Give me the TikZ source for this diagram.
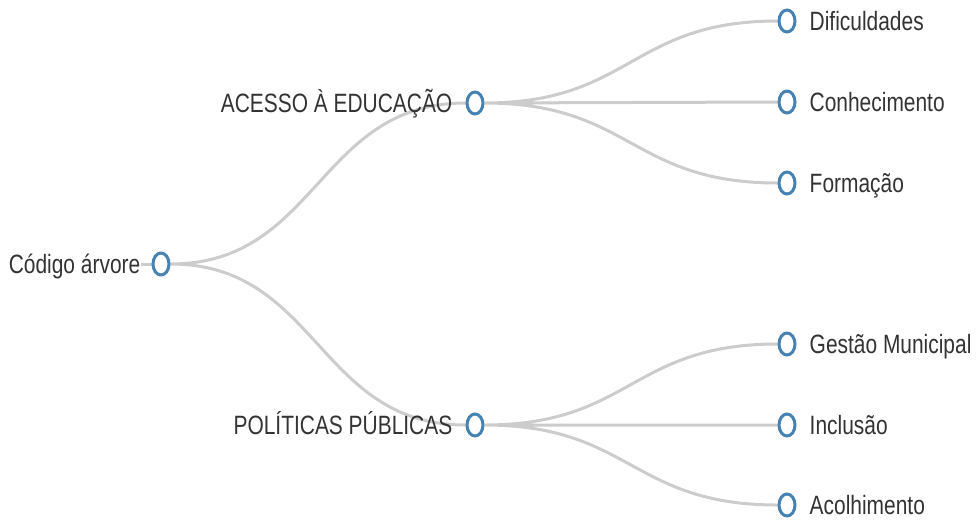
\documentclass[tikz,border=0pt]{standalone}
\usepackage{fontspec}
\setmainfont[FakeStretch=0.79]{Liberation Sans}
\usetikzlibrary{shapes.geometric, positioning, backgrounds, calc}
\definecolor{dotblue}{HTML}{4682B4}
\definecolor{linkgray}{HTML}{CCCCCC}
\definecolor{textgray}{HTML}{333333}

\begin{document}
\begin{tikzpicture}[x=1pt, y=-1pt, node distance=13pt, font=\fontsize{26.5}{30}\selectfont]
        \tikzstyle{dot}=[ellipse, draw=dotblue, line width=3pt, fill=white, minimum width=16pt, minimum height=22pt, inner sep=0pt]
        \tikzstyle{nodetext}=[text=textgray, inner sep=0pt, text height=19pt, text depth=0pt]
        \tikzstyle{link}=[draw=linkgray, line width=3pt]
        \tikzstyle{branch}=[to path={let \p1=(\tikztostart), \p2=(\tikztotarget) in .. controls ({0.5*\x1+0.5*\x2},\y1) and ({0.5*\x1+0.5*\x2},\y2) .. (\tikztotarget)}]

        \useasboundingbox (0,0) rectangle (976,520);

        % dots
        \node[dot] (root)    at (161,264) {};
        \node[dot] (acesso)  at (475,103) {};
        \node[dot] (politic) at (475,425) {};
        \node[dot] (dific)   at (787,21)  {};
        \node[dot] (conhec)  at (787,102) {};
        \node[dot] (formac)  at (787,183) {};
        \node[dot] (gestao)  at (787,344) {};
        \node[dot] (inclus)  at (787,425) {};
        \node[dot] (acolhi)  at (787,505) {};

        % texts
        \node[nodetext] (rootname)    [left=11pt of root]   {Código árvore};
        \node[nodetext] (acessoname)  [left=of acesso]      {ACESSO À EDUCAÇÃO};
        \node[nodetext] (politicname) [left=of politic]     {POLÍTICAS PÚBLICAS};
        \node[nodetext] (dificname)   [right=of dific]      {Dificuldades};
        \node[nodetext] (conhecname)  [right=of conhec]     {Conhecimento};
        \node[nodetext] (formacname)  [right=of formac]     {Formação};
        \node[nodetext] (gestaoname)  [right=of gestao]     {Gestão Municipal};
        \node[nodetext] (inclusname)  [right=of inclus]     {Inclusão};
        \node[nodetext] (acolhiname)  [right=of acolhi]     {Acolhimento};

        \begin{scope}[on background layer]
        \path[link] (root.west) -- (root.west -| rootname.east);
        \path[link] (root) to[branch] (acesso)
                    (root) to[branch] (politic)
                    (acesso) to[branch] (dific)
                    (acesso) to[branch] (conhec)
                    (acesso) to[branch] (formac)
                    (politic) to[branch] (gestao)
                    (politic) to[branch] (inclus)
                    (politic) to[branch] (acolhi);
        \end{scope}
\end{tikzpicture}
\end{document}
